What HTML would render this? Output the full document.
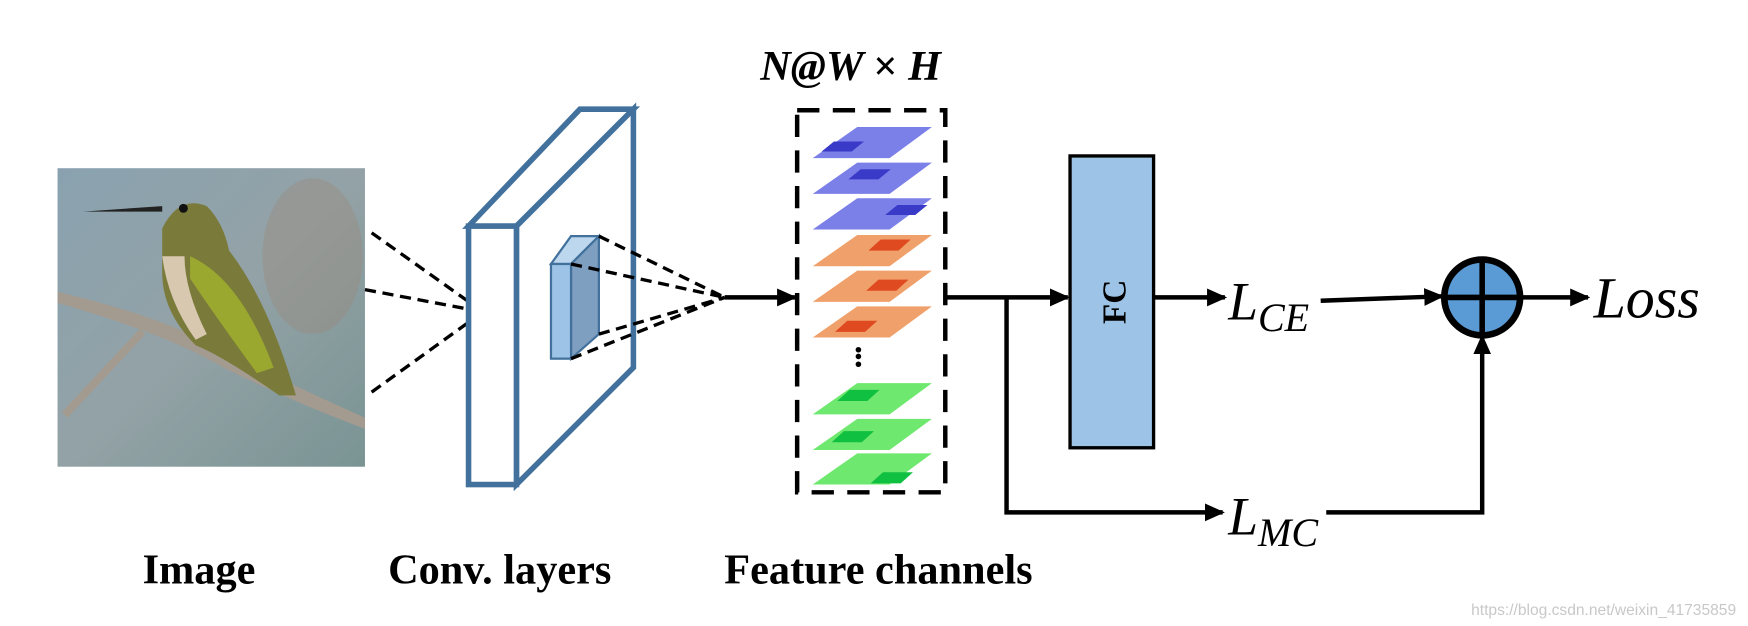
<!DOCTYPE html>
<html><head><meta charset="utf-8"><style>html,body{margin:0;padding:0;background:#fff}svg{display:block}</style></head>
<body>
<svg width="1748" height="626" viewBox="0 0 1568 562" xmlns="http://www.w3.org/2000/svg">
<defs>
<linearGradient id="bg" x1="0" y1="0" x2="1" y2="1">
<stop offset="0" stop-color="#8aa2b0"/><stop offset="0.5" stop-color="#93a2a6"/><stop offset="1" stop-color="#7a9494"/>
</linearGradient>
<marker id="ah" markerWidth="18" markerHeight="16" refX="16" refY="8" orient="auto" markerUnits="userSpaceOnUse" viewBox="0 0 18 16">
<path d="M0,0 L18,8 L0,16 z" fill="#000"/></marker>
</defs>
<!-- photo -->
<rect x="51" y="151" width="276" height="268" fill="url(#bg)"/>
<ellipse cx="280" cy="230" rx="45" ry="70" fill="#9a8c80" opacity="0.45"/>
<path d="M51,272 Q150,300 200,330 Q260,360 327,385 L327,375 Q260,345 210,320 Q150,285 51,262z" fill="#a39a90"/>
<path d="M55,370 L125,295 L130,300 L60,375z" fill="#a39a90"/>
<path d="M145,205 Q160,175 185,185 Q200,200 205,225 Q240,270 265,355 L250,355 Q200,320 175,310 Q145,280 145,245z" fill="#7a7a3a"/>
<path d="M145,230 Q150,270 175,305 L185,300 Q165,260 165,230z" fill="#d8c8b0"/>
<path d="M170,230 Q215,250 245,330 L230,335 Q190,280 170,250z" fill="#9aa830"/>
<path d="M74,190 L145,185 L145,190 Z" fill="#222"/>
<circle cx="164" cy="187" r="4" fill="#111"/>
<!-- dashed lines from image -->
<g stroke="#000" stroke-width="3" stroke-dasharray="10,6" fill="none">
<line x1="333" y1="209" x2="433" y2="280"/>
<line x1="327" y1="260" x2="433" y2="280"/>
<line x1="333" y1="352" x2="433" y2="280"/>
</g>
<!-- conv block -->
<g stroke="#41719c" stroke-width="5" fill="#fff" stroke-linejoin="miter">
<path d="M420,203 L520,98 L568,98 L463,203z"/>
<path d="M568,98 L568,330 L463,435 L463,203z"/>
<rect x="420" y="203" width="43" height="232"/>
</g>
<!-- small cube -->
<g stroke="#41719c" stroke-width="2">
<path d="M494,237 L512,212 L537,212 L512,237z" fill="#bdd7ee"/>
<path d="M512,237 L537,212 L537,300 L512,322z" fill="#7f9fc0"/>
<rect x="494" y="237" width="18" height="85" fill="#9dc3e6"/>
</g>
<g stroke="#000" stroke-width="3" stroke-dasharray="10,6" fill="none">
<line x1="537" y1="212" x2="650" y2="267"/>
<line x1="512" y1="237" x2="650" y2="267"/>
<line x1="512" y1="322" x2="650" y2="267"/>
<line x1="537" y1="300" x2="650" y2="267"/>
</g>
<line x1="650" y1="267" x2="713" y2="267" stroke="#000" stroke-width="4" marker-end="url(#ah)"/>
<!-- dashed box -->
<rect x="715" y="99" width="133" height="343" fill="none" stroke="#000" stroke-width="4" stroke-dasharray="20,12"/>
<!-- planes -->
<g>
<path d="M769,114 L836,114 L798,142 L729,142z" fill="#7b7fe8"/><path d="M748,127 L775,127 L764,136 L737,136z" fill="#3a3ac8"/>
<path d="M769,146 L836,146 L798,174 L729,174z" fill="#7b7fe8"/><path d="M772,152 L799,152 L788,161 L761,161z" fill="#3a3ac8"/>
<path d="M769,178 L836,178 L798,206 L729,206z" fill="#7b7fe8"/><path d="M805,184 L832,184 L821,193 L794,193z" fill="#3a3ac8"/>
<path d="M769,211 L836,211 L798,239 L729,239z" fill="#f0a06a"/><path d="M790,215 L817,215 L806,225 L779,225z" fill="#e04a20"/>
<path d="M769,243 L836,243 L798,271 L729,271z" fill="#f0a06a"/><path d="M788,251 L815,251 L804,261 L777,261z" fill="#e04a20"/>
<path d="M769,275 L836,275 L798,303 L729,303z" fill="#f0a06a"/><path d="M760,288 L787,288 L776,298 L749,298z" fill="#e04a20"/>
<path d="M769,344 L836,344 L798,372 L729,372z" fill="#6ee86e"/><path d="M762,350 L789,350 L778,360 L751,360z" fill="#10c040"/>
<path d="M769,376 L836,376 L798,404 L729,404z" fill="#6ee86e"/><path d="M757,387 L784,387 L773,397 L746,397z" fill="#10c040"/>
<path d="M769,407 L836,407 L798,435 L729,435z" fill="#6ee86e"/><path d="M792,424 L819,424 L808,434 L781,434z" fill="#10c040"/>
</g>
<circle cx="770" cy="314" r="2.5" fill="#000"/><circle cx="770" cy="320" r="2.5" fill="#000"/><circle cx="770" cy="327" r="2.5" fill="#000"/>
<!-- arrows -->
<g stroke="#000" stroke-width="4" fill="none">
<line x1="848" y1="267" x2="958" y2="267" marker-end="url(#ah)"/>
<polyline points="903,267 903,460 1097,460" marker-end="url(#ah)"/>
<line x1="1035" y1="267" x2="1099" y2="267" marker-end="url(#ah)"/>
<line x1="1185" y1="270" x2="1294" y2="266" marker-end="url(#ah)"/>
<line x1="1365" y1="267" x2="1425" y2="267" marker-end="url(#ah)"/>
<polyline points="1190,460 1330,460 1330,302" marker-end="url(#ah)"/>
</g>
<rect x="960" y="140" width="75" height="262" fill="#9dc3e6" stroke="#000" stroke-width="3"/>
<text transform="translate(1010,271) rotate(-90)" text-anchor="middle" font-family="Liberation Serif,serif" font-weight="bold" font-size="30">FC</text>
<circle cx="1330" cy="267" r="34" fill="#5b9bd5" stroke="#000" stroke-width="6"/>
<line x1="1296" y1="267" x2="1364" y2="267" stroke="#000" stroke-width="5"/>
<line x1="1330" y1="233" x2="1330" y2="301" stroke="#000" stroke-width="5"/>
<!-- math text -->
<g font-family="Liberation Serif,serif" font-style="italic">
<text x="1102" y="287" font-size="48">L<tspan font-size="36" dy="10">CE</tspan></text>
<text x="1102" y="480" font-size="48">L<tspan font-size="36" dy="10">MC</tspan></text>
<text x="1430" y="285" font-size="52">Loss</text>
<text x="763" y="72" font-size="38" font-weight="bold" text-anchor="middle">N@W <tspan font-style="normal">×</tspan> H</text>
</g>
<g font-family="Liberation Serif,serif" font-weight="bold" font-size="38" text-anchor="middle">
<text x="178" y="524">Image</text>
<text x="448" y="524">Conv. layers</text>
<text x="788" y="524">Feature channels</text>
</g>
<text x="1558" y="552" text-anchor="end" font-family="Liberation Sans,sans-serif" font-size="14" fill="#c8c8c8">https://blog.csdn.net/weixin_41735859</text>
</svg>
</body></html>
